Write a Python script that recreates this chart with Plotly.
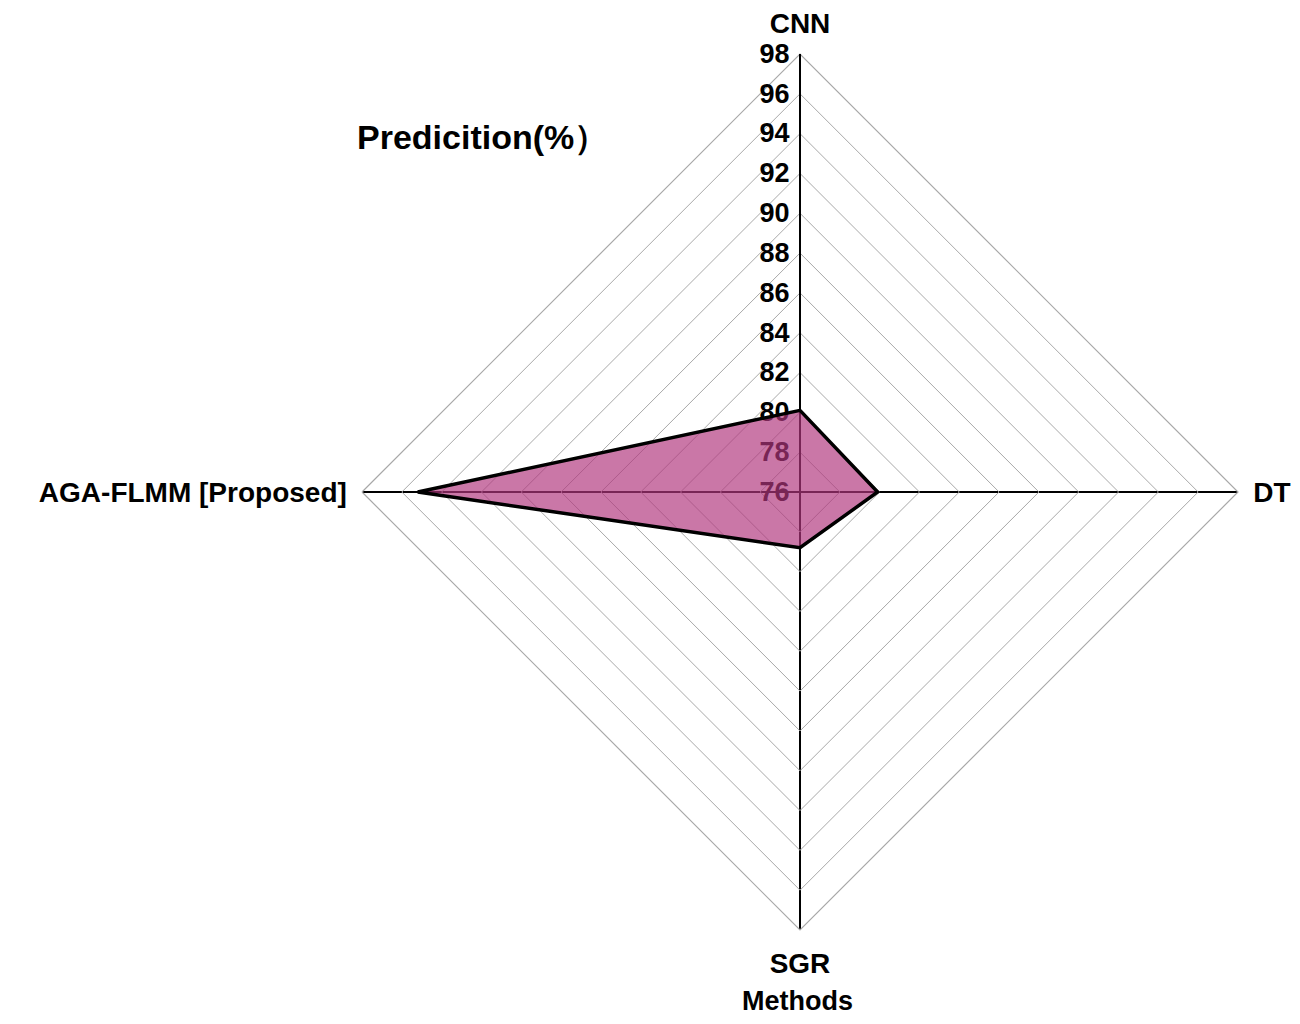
import plotly.graph_objects as go

categories = ["CNN", "DT", "SGR", "AGA-FLMM [Proposed]"]
prediction = [80.1, 79.9, 78.8, 95.2]
tick_vals = [76, 78, 80, 82, 84, 86, 88, 90, 92, 94, 96, 98]
tick_text = [str(v) for v in tick_vals]

# page body has an 8px margin; work in page coordinates and shift
OFF = 8
W, H = 1300 - 2 * OFF, 1024 - 2 * OFF
cx, cy, R = 800 - OFF, 492 - OFF, 438

fig = go.Figure()
fig.add_trace(go.Scatterpolar(
    r=prediction + prediction[:1],
    theta=categories + categories[:1],
    mode="lines",
    fill="toself",
    fillcolor="rgba(177,55,126,0.68)",
    line=dict(color="black", width=3.5),
    showlegend=False,
))

font_b = "Liberation Sans, Arial, sans-serif"
fig.update_layout(
    width=W, height=H,
    margin=dict(l=0, r=0, t=0, b=0),
    paper_bgcolor="white",
    plot_bgcolor="white",
    font=dict(family=font_b, color="black"),
    polar=dict(
        domain=dict(x=[(cx - R) / W, (cx + R) / W], y=[1 - (cy + R) / H, 1 - (cy - R) / H]),
        bgcolor="white",
        gridshape="linear",
        radialaxis=dict(
            range=[76, 98],
            tickvals=tick_vals,
            ticktext=tick_text,
            angle=90,
            side="counterclockwise",
            tickangle=90,
            ticks="",
            showline=True,
            linecolor="black",
            linewidth=2,
            gridcolor="#a8a8a8",
            gridwidth=1.2,
            layer="below traces",
            tickfont=dict(size=27, family=font_b, color="black", weight="bold"),
        ),
        angularaxis=dict(
            rotation=90,
            direction="clockwise",
            showline=True,
            linecolor="#a8a8a8",
            linewidth=1.2,
            gridcolor="black",
            gridwidth=1.8,
            ticks="outside",
            ticklen=9,
            tickcolor="rgba(0,0,0,0)",
            layer="below traces",
            tickfont=dict(size=28, family=font_b, color="black", weight="bold"),
        ),
    ),
    annotations=[
        dict(text="<b>Predicition(%）</b>", x=(355 - OFF) / W, y=1 - (137 - OFF) / H,
             xref="paper", yref="paper", showarrow=False,
             font=dict(size=34, family=font_b, color="black"),
             xanchor="left", yanchor="middle"),
        dict(text="<b>Methods</b>", x=(797 - OFF) / W, y=1 - (1001 - OFF) / H,
             xref="paper", yref="paper", showarrow=False,
             font=dict(size=27, family=font_b, color="black"),
             xanchor="center", yanchor="middle"),
    ],
)

fig.write_html("out.html")
